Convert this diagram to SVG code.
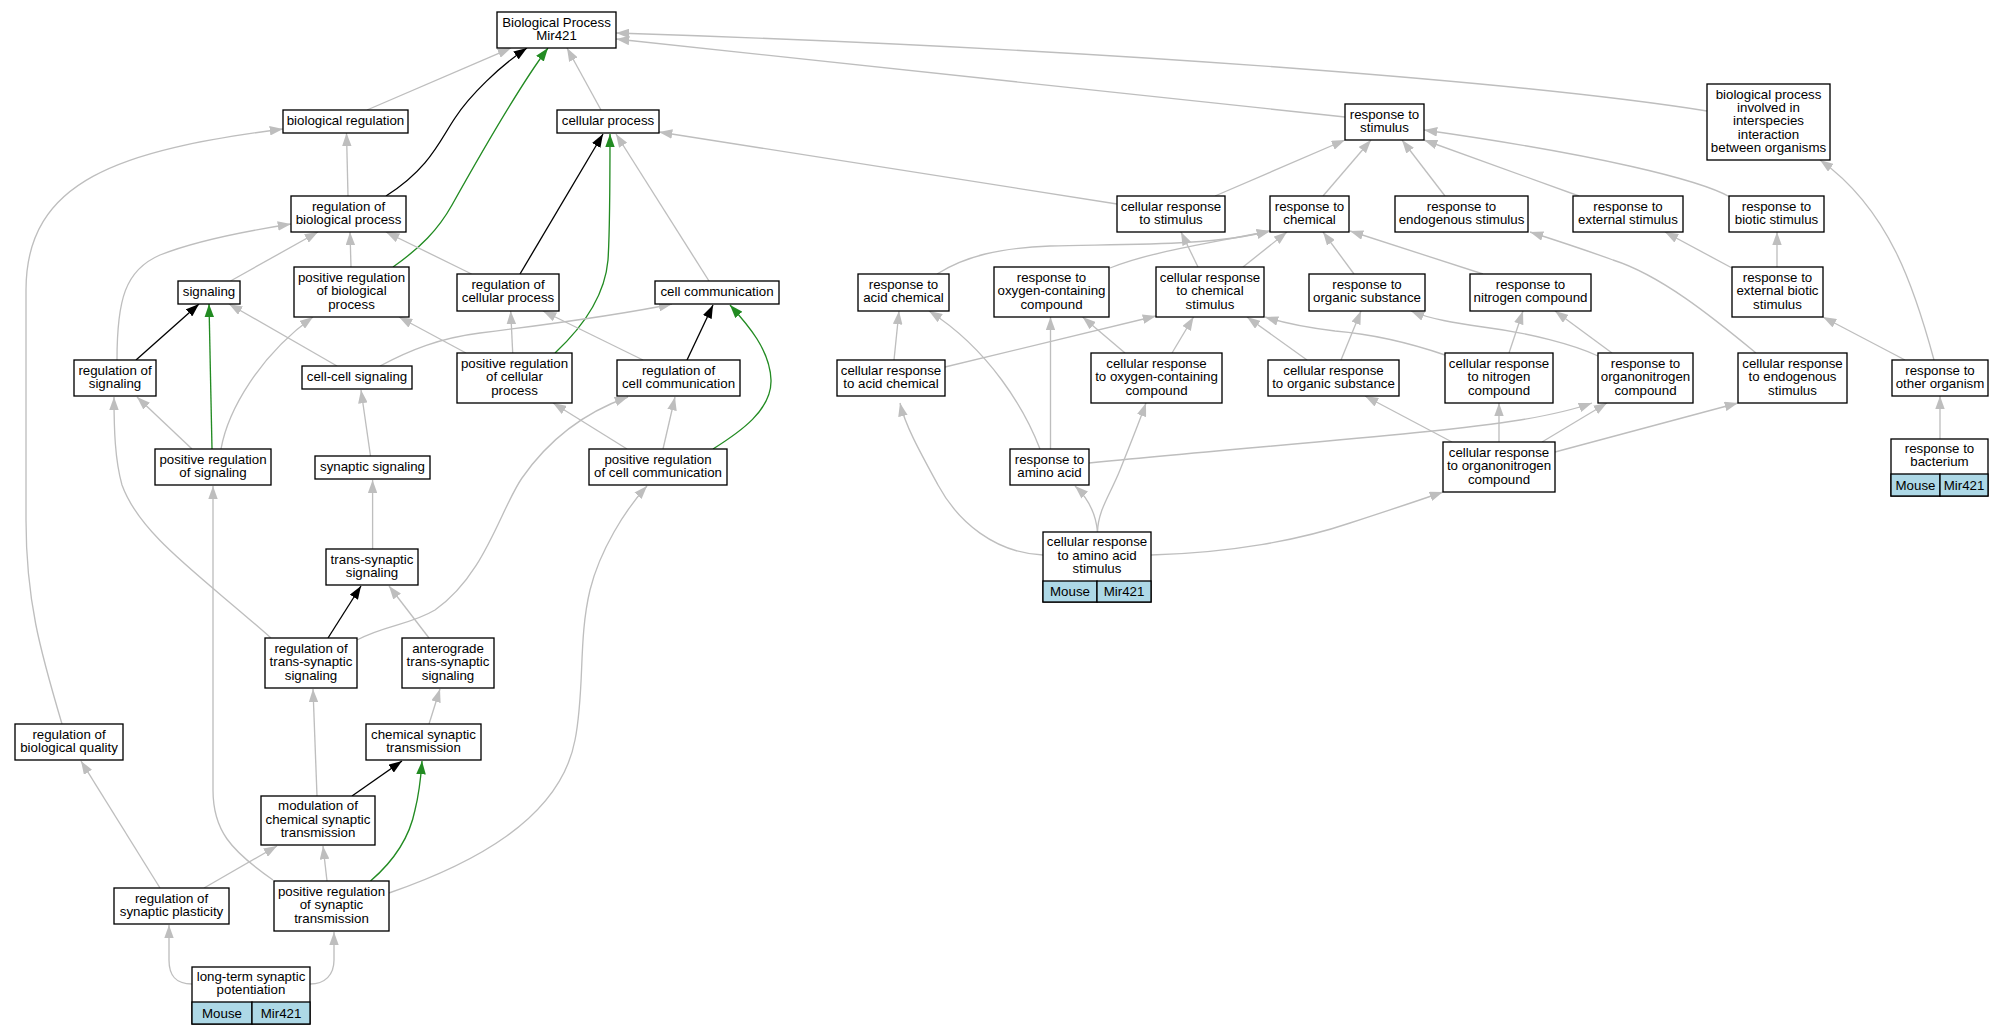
<svg xmlns="http://www.w3.org/2000/svg" width="2004" height="1035" viewBox="0 0 2004 1035">
<defs>
<style>
.n rect{fill:#fff;stroke:#000;stroke-width:1.33}
.n rect.t{fill:#add8e6}
text{font-family:"Liberation Sans",Arial,sans-serif;font-size:13.3px;text-anchor:middle;fill:#000}
.e path{fill:none;stroke-width:1.33}
.e .g{stroke:#bebebe;marker-end:url(#ag)}
.e .k{stroke:#000;marker-end:url(#ak)}
.e .f{stroke:#228b22;marker-end:url(#af)}
</style>
<marker id="ag" viewBox="0 0 13.3 9.6" refX="13.3" refY="4.8" markerWidth="13.3" markerHeight="9.6" markerUnits="userSpaceOnUse" orient="auto"><path d="M0,0 L13.3,4.8 L0,9.6 z" fill="#bebebe"/></marker>
<marker id="ak" viewBox="0 0 13.3 9.6" refX="13.3" refY="4.8" markerWidth="13.3" markerHeight="9.6" markerUnits="userSpaceOnUse" orient="auto"><path d="M0,0 L13.3,4.8 L0,9.6 z" fill="#000"/></marker>
<marker id="af" viewBox="0 0 13.3 9.6" refX="13.3" refY="4.8" markerWidth="13.3" markerHeight="9.6" markerUnits="userSpaceOnUse" orient="auto"><path d="M0,0 L13.3,4.8 L0,9.6 z" fill="#228b22"/></marker>
</defs>
<rect width="2004" height="1035" fill="#fff"/>
<g id="edges" class="e">
<path class="g" d="M367,110 L511,48"/>
<path class="k" d="M386,196 C430,168 440,140 455,118 C470,95 500,66 527,48"/>
<path class="f" d="M393,267 C420,248 438,230 452,205 C480,155 520,85 548,48"/>
<path class="g" d="M601,110 L567,48"/>
<path class="g" d="M348,196 L346.5,133"/>
<path class="g" d="M62,724 C40,650 26,600 26,520 L26,290 C26,180 120,150 283,129"/>
<path class="g" d="M230.5,281 L318,232"/>
<path class="g" d="M351,267 L350,232"/>
<path class="g" d="M471.6,274 L386,232"/>
<path class="g" d="M117,360 C117,300 125,270 160,255 C190,243 240,232 291,224"/>
<path class="k" d="M520,274 L603,134"/>
<path class="f" d="M555,353 C585,325 605,295 608,260 C610,230 610,180 610,134"/>
<path class="g" d="M709,281 L616,134"/>
<path class="g" d="M1117,204 L659,132"/>
<path class="k" d="M136,360 L199,304"/>
<path class="f" d="M212,449 L209,304"/>
<path class="g" d="M337,366 L229,304"/>
<path class="g" d="M221,449 C228,410 260,355 313,317"/>
<path class="g" d="M466,353 L399,317"/>
<path class="g" d="M380,366 C410,350 440,338 480,333 C560,323 620,315 672,304"/>
<path class="g" d="M512.7,353 L510.7,311"/>
<path class="g" d="M643,360 L543,311"/>
<path class="g" d="M192,449 L137,397"/>
<path class="g" d="M271,638 C200,575 140,535 122,485 C115,460 114,430 114,397"/>
<path class="g" d="M370.5,456 L361,390"/>
<path class="g" d="M372.6,549 L372.6,480"/>
<path class="g" d="M627,449 L553,403"/>
<path class="g" d="M663,449 L675,397"/>
<path class="f" d="M713,449 C740,432 772,410 771,380 C770,350 748,325 730,305"/>
<path class="k" d="M687,360 L713,305"/>
<path class="g" d="M357,640 C385,625 410,625 435,610 C485,575 500,510 522,478 C545,445 580,414 628,397"/>
<path class="g" d="M389,893 C470,865 560,820 575,740 C585,690 578,640 590,590 C600,550 625,510 647,486"/>
<path class="g" d="M273,880 C230,850 213,830 213,790 L213,486"/>
<path class="k" d="M328,638 L361,586"/>
<path class="g" d="M429,638 L389,586"/>
<path class="g" d="M429,724 L440,689"/>
<path class="g" d="M317,796 L313,689"/>
<path class="k" d="M352,796 L402,761"/>
<path class="f" d="M370.5,881 C395,860 410,835 415,810 C420,790 421,775 422,761"/>
<path class="g" d="M160,888 L81,761"/>
<path class="g" d="M204,888 L277,846"/>
<path class="g" d="M327,881 L323,846"/>
<path class="g" d="M192,984 C175,984 169,975 169,960 L169,925"/>
<path class="g" d="M310,984 C325,984 334,975 334,960 L334,932"/>
<path class="g" d="M1345,117 L616,39"/>
<path class="g" d="M1707,111 C1550,86 1150,50 616,33"/>
<path class="g" d="M1215,196 L1345,140"/>
<path class="g" d="M1323,196 L1371,140"/>
<path class="g" d="M1445,196 L1402,140"/>
<path class="g" d="M1579,196 L1424,140"/>
<path class="g" d="M1730,197 C1700,180 1600,155 1424,130"/>
<path class="g" d="M1934,360 C1915,290 1890,210 1820,160"/>
<path class="g" d="M937,274 C965,256 1000,248 1050,246 C1130,244 1210,246 1270,231"/>
<path class="g" d="M1110,268 C1150,252 1200,245 1270,231"/>
<path class="g" d="M1243,267 L1287,232"/>
<path class="g" d="M1198,267 L1181,232"/>
<path class="g" d="M1354,274 L1323,232"/>
<path class="g" d="M1483,274 L1350,231"/>
<path class="g" d="M1756,353 C1710,315 1660,275 1613,260 C1580,248 1555,240 1530,232"/>
<path class="g" d="M1732,268 L1665,232"/>
<path class="g" d="M1777,267 L1777,232"/>
<path class="g" d="M1905,360 L1823,317"/>
<path class="g" d="M1940,439 L1940,396"/>
<path class="g" d="M894,360 L899,311"/>
<path class="g" d="M945,367 L1156,316"/>
<path class="g" d="M1040,449 C1025,410 990,350 929,311"/>
<path class="g" d="M1050.5,449 L1050.5,317"/>
<path class="g" d="M1125,353 L1082.6,317"/>
<path class="g" d="M1172,353 L1193.5,317"/>
<path class="g" d="M1307,360 L1247,317"/>
<path class="g" d="M1445,355 C1410,343 1370,334 1335,331 C1310,328 1290,325 1265,317"/>
<path class="g" d="M1341,360 L1361,311"/>
<path class="g" d="M1598,356 C1575,345 1530,333 1483,327 C1455,323 1430,319 1411,311"/>
<path class="g" d="M1509,353 L1523,311"/>
<path class="g" d="M1612,353 L1555,311"/>
<path class="g" d="M1452,442 L1365,396"/>
<path class="g" d="M1499,442 L1499,403"/>
<path class="g" d="M1542,442 L1607,403"/>
<path class="g" d="M1089,463 C1250,447 1450,432 1520,420 C1550,415 1570,411 1592,403"/>
<path class="g" d="M1555,452 L1738,403"/>
<path class="g" d="M1043,555 C995,553 958,522 938,485 C920,452 905,425 900,403"/>
<path class="g" d="M1097.5,532 C1096,515 1090,500 1075,486"/>
<path class="g" d="M1097.5,532 C1098,510 1110,495 1120,470 C1130,445 1140,420 1146,403"/>
<path class="g" d="M1151,555 C1230,553 1300,540 1350,523 C1390,510 1420,500 1443,492"/>
</g>
<g id="n1" class="n"><rect x="497" y="12" width="119" height="36"/><text x="556.5" y="26.6">Biological Process<tspan x="556.5" dy="13.3">Mir421</tspan></text></g>
<g id="n2" class="n"><rect x="283" y="110" width="125" height="23"/><text x="345.5" y="125">biological regulation</text></g>
<g id="n3" class="n"><rect x="557" y="110" width="102" height="23"/><text x="608" y="125">cellular process</text></g>
<g id="n4" class="n"><rect x="291" y="196" width="115" height="36"/><text x="348.5" y="210.6">regulation of<tspan x="348.5" dy="13.3">biological process</tspan></text></g>
<g id="n5" class="n"><rect x="178" y="281" width="62" height="23"/><text x="209" y="296">signaling</text></g>
<g id="n6" class="n"><rect x="294" y="267" width="115" height="50"/><text x="351.5" y="281.9">positive regulation<tspan x="351.5" dy="13.3">of biological</tspan><tspan x="351.5" dy="13.3">process</tspan></text></g>
<g id="n7" class="n"><rect x="457" y="274" width="102" height="37"/><text x="508" y="289.1">regulation of<tspan x="508" dy="13.3">cellular process</tspan></text></g>
<g id="n8" class="n"><rect x="655" y="281" width="124" height="23"/><text x="717" y="296">cell communication</text></g>
<g id="n9" class="n"><rect x="74" y="360" width="82" height="36"/><text x="115" y="374.6">regulation of<tspan x="115" dy="13.3">signaling</tspan></text></g>
<g id="n10" class="n"><rect x="302" y="366" width="110" height="23"/><text x="357" y="381">cell-cell signaling</text></g>
<g id="n11" class="n"><rect x="457" y="353" width="115" height="50"/><text x="514.5" y="367.9">positive regulation<tspan x="514.5" dy="13.3">of cellular</tspan><tspan x="514.5" dy="13.3">process</tspan></text></g>
<g id="n12" class="n"><rect x="617" y="360" width="123" height="36"/><text x="678.5" y="374.6">regulation of<tspan x="678.5" dy="13.3">cell communication</tspan></text></g>
<g id="n13" class="n"><rect x="155" y="449" width="116" height="36"/><text x="213" y="463.6">positive regulation<tspan x="213" dy="13.3">of signaling</tspan></text></g>
<g id="n14" class="n"><rect x="315" y="456" width="115" height="23"/><text x="372.5" y="471">synaptic signaling</text></g>
<g id="n15" class="n"><rect x="589" y="449" width="138" height="36"/><text x="658" y="463.6">positive regulation<tspan x="658" dy="13.3">of cell communication</tspan></text></g>
<g id="n16" class="n"><rect x="326" y="549" width="92" height="36"/><text x="372" y="563.6">trans-synaptic<tspan x="372" dy="13.3">signaling</tspan></text></g>
<g id="n17" class="n"><rect x="265" y="638" width="92" height="50"/><text x="311" y="652.9">regulation of<tspan x="311" dy="13.3">trans-synaptic</tspan><tspan x="311" dy="13.3">signaling</tspan></text></g>
<g id="n18" class="n"><rect x="402" y="638" width="92" height="50"/><text x="448" y="652.9">anterograde<tspan x="448" dy="13.3">trans-synaptic</tspan><tspan x="448" dy="13.3">signaling</tspan></text></g>
<g id="n19" class="n"><rect x="15" y="724" width="108" height="36"/><text x="69" y="738.6">regulation of<tspan x="69" dy="13.3">biological quality</tspan></text></g>
<g id="n20" class="n"><rect x="366" y="724" width="115" height="36"/><text x="423.5" y="738.6">chemical synaptic<tspan x="423.5" dy="13.3">transmission</tspan></text></g>
<g id="n21" class="n"><rect x="261" y="796" width="114" height="49"/><text x="318" y="810.4">modulation of<tspan x="318" dy="13.3">chemical synaptic</tspan><tspan x="318" dy="13.3">transmission</tspan></text></g>
<g id="n22" class="n"><rect x="114" y="888" width="115" height="36"/><text x="171.5" y="902.6">regulation of<tspan x="171.5" dy="13.3">synaptic plasticity</tspan></text></g>
<g id="n23" class="n"><rect x="274" y="881" width="115" height="50"/><text x="331.5" y="895.9">positive regulation<tspan x="331.5" dy="13.3">of synaptic</tspan><tspan x="331.5" dy="13.3">transmission</tspan></text></g>
<g id="n24" class="n"><rect x="192" y="967" width="118" height="57"/><rect class="t" x="192" y="1002" width="60" height="22"/><rect class="t" x="252" y="1002" width="58" height="22"/><text x="251" y="981.1">long-term synaptic<tspan x="251" dy="13.3">potentiation</tspan></text><text x="222" y="1017.5">Mouse</text><text x="281" y="1017.5">Mir421</text></g>
<g id="n25" class="n"><rect x="1345" y="104" width="79" height="36"/><text x="1384.5" y="118.6">response to<tspan x="1384.5" dy="13.3">stimulus</tspan></text></g>
<g id="n26" class="n"><rect x="1707" y="84" width="123" height="76"/><text x="1768.5" y="98.6">biological process<tspan x="1768.5" dy="13.3">involved in</tspan><tspan x="1768.5" dy="13.3">interspecies</tspan><tspan x="1768.5" dy="13.3">interaction</tspan><tspan x="1768.5" dy="13.3">between organisms</tspan></text></g>
<g id="n27" class="n"><rect x="1117" y="196" width="108" height="36"/><text x="1171" y="210.6">cellular response<tspan x="1171" dy="13.3">to stimulus</tspan></text></g>
<g id="n28" class="n"><rect x="1270" y="196" width="79" height="36"/><text x="1309.5" y="210.6">response to<tspan x="1309.5" dy="13.3">chemical</tspan></text></g>
<g id="n29" class="n"><rect x="1395" y="196" width="133" height="36"/><text x="1461.5" y="210.6">response to<tspan x="1461.5" dy="13.3">endogenous stimulus</tspan></text></g>
<g id="n30" class="n"><rect x="1573" y="196" width="110" height="36"/><text x="1628" y="210.6">response to<tspan x="1628" dy="13.3">external stimulus</tspan></text></g>
<g id="n31" class="n"><rect x="1729" y="196" width="95" height="36"/><text x="1776.5" y="210.6">response to<tspan x="1776.5" dy="13.3">biotic stimulus</tspan></text></g>
<g id="n32" class="n"><rect x="858" y="274" width="91" height="37"/><text x="903.5" y="289.1">response to<tspan x="903.5" dy="13.3">acid chemical</tspan></text></g>
<g id="n33" class="n"><rect x="994" y="267" width="115" height="50"/><text x="1051.5" y="281.9">response to<tspan x="1051.5" dy="13.3">oxygen-containing</tspan><tspan x="1051.5" dy="13.3">compound</tspan></text></g>
<g id="n34" class="n"><rect x="1156" y="267" width="108" height="50"/><text x="1210" y="281.9">cellular response<tspan x="1210" dy="13.3">to chemical</tspan><tspan x="1210" dy="13.3">stimulus</tspan></text></g>
<g id="n35" class="n"><rect x="1309" y="274" width="116" height="37"/><text x="1367" y="289.1">response to<tspan x="1367" dy="13.3">organic substance</tspan></text></g>
<g id="n36" class="n"><rect x="1470" y="274" width="121" height="37"/><text x="1530.5" y="289.1">response to<tspan x="1530.5" dy="13.3">nitrogen compound</tspan></text></g>
<g id="n37" class="n"><rect x="1732" y="267" width="91" height="50"/><text x="1777.5" y="281.9">response to<tspan x="1777.5" dy="13.3">external biotic</tspan><tspan x="1777.5" dy="13.3">stimulus</tspan></text></g>
<g id="n38" class="n"><rect x="837" y="360" width="108" height="36"/><text x="891" y="374.6">cellular response<tspan x="891" dy="13.3">to acid chemical</tspan></text></g>
<g id="n39" class="n"><rect x="1091" y="353" width="131" height="50"/><text x="1156.5" y="367.9">cellular response<tspan x="1156.5" dy="13.3">to oxygen-containing</tspan><tspan x="1156.5" dy="13.3">compound</tspan></text></g>
<g id="n40" class="n"><rect x="1268" y="360" width="131" height="36"/><text x="1333.5" y="374.6">cellular response<tspan x="1333.5" dy="13.3">to organic substance</tspan></text></g>
<g id="n41" class="n"><rect x="1445" y="353" width="108" height="50"/><text x="1499" y="367.9">cellular response<tspan x="1499" dy="13.3">to nitrogen</tspan><tspan x="1499" dy="13.3">compound</tspan></text></g>
<g id="n42" class="n"><rect x="1598" y="353" width="95" height="50"/><text x="1645.5" y="367.9">response to<tspan x="1645.5" dy="13.3">organonitrogen</tspan><tspan x="1645.5" dy="13.3">compound</tspan></text></g>
<g id="n43" class="n"><rect x="1738" y="353" width="109" height="50"/><text x="1792.5" y="367.9">cellular response<tspan x="1792.5" dy="13.3">to endogenous</tspan><tspan x="1792.5" dy="13.3">stimulus</tspan></text></g>
<g id="n44" class="n"><rect x="1892" y="360" width="96" height="36"/><text x="1940" y="374.6">response to<tspan x="1940" dy="13.3">other organism</tspan></text></g>
<g id="n45" class="n"><rect x="1010" y="449" width="79" height="36"/><text x="1049.5" y="463.6">response to<tspan x="1049.5" dy="13.3">amino acid</tspan></text></g>
<g id="n46" class="n"><rect x="1443" y="442" width="112" height="50"/><text x="1499" y="456.9">cellular response<tspan x="1499" dy="13.3">to organonitrogen</tspan><tspan x="1499" dy="13.3">compound</tspan></text></g>
<g id="n47" class="n"><rect x="1891" y="439" width="97" height="57"/><rect class="t" x="1891" y="474" width="49" height="22"/><rect class="t" x="1940" y="474" width="48" height="22"/><text x="1939.5" y="453.1">response to<tspan x="1939.5" dy="13.3">bacterium</tspan></text><text x="1915.5" y="489.5">Mouse</text><text x="1964" y="489.5">Mir421</text></g>
<g id="n48" class="n"><rect x="1043" y="532" width="108" height="70"/><rect class="t" x="1043" y="581" width="54" height="21"/><rect class="t" x="1097" y="581" width="54" height="21"/><text x="1097" y="546.4">cellular response<tspan x="1097" dy="13.3">to amino acid</tspan><tspan x="1097" dy="13.3">stimulus</tspan></text><text x="1070" y="596">Mouse</text><text x="1124" y="596">Mir421</text></g>
</svg>
